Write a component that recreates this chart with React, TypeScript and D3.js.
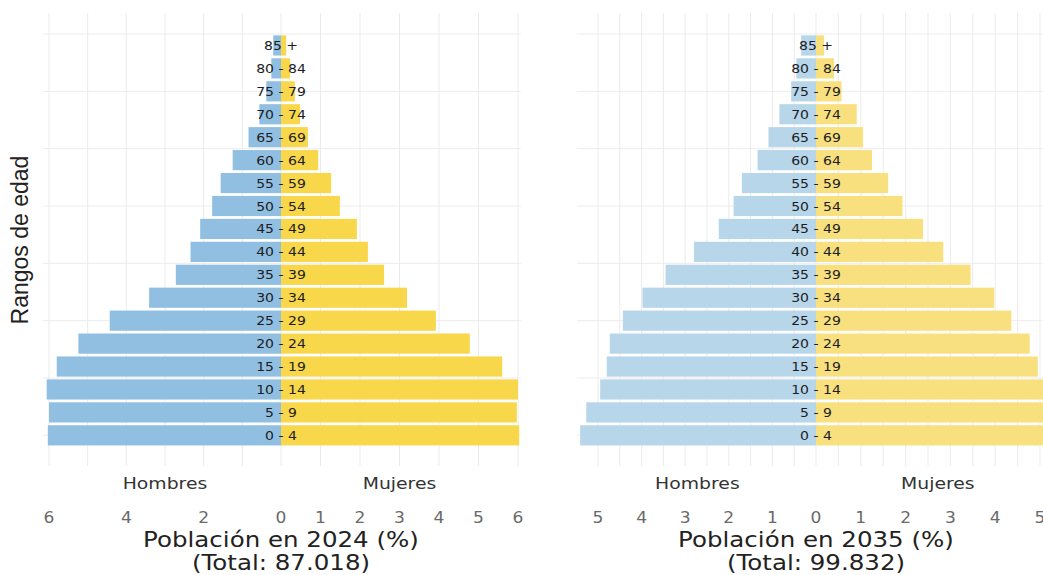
import React from "react";
import * as d3 from "d3";

const ages = ["0 - 4","5 - 9","10 - 14","15 - 19","20 - 24","25 - 29","30 - 34","35 - 39","40 - 44","45 - 49","50 - 54","55 - 59","60 - 64","65 - 69","70 - 74","75 - 79","80 - 84","85 +"];

const men2024 = [6.03, 6.0, 6.06, 5.8, 5.24, 4.43, 3.41, 2.72, 2.34, 2.09, 1.78, 1.56, 1.25, 0.84, 0.56, 0.38, 0.25, 0.2];
const women2024 = [6.03, 5.97, 6.0, 5.6, 4.78, 3.92, 3.19, 2.61, 2.2, 1.92, 1.49, 1.27, 0.94, 0.68, 0.48, 0.35, 0.23, 0.13];

const men2035 = [5.41, 5.27, 4.95, 4.8, 4.73, 4.43, 3.98, 3.45, 2.8, 2.23, 1.89, 1.7, 1.34, 1.09, 0.84, 0.57, 0.45, 0.34];
const women2035 = [5.25, 5.18, 5.1, 4.95, 4.77, 4.36, 3.98, 3.45, 2.84, 2.39, 1.93, 1.61, 1.25, 1.05, 0.91, 0.57, 0.4, 0.18];

const ticks2024Left = [-6, -4, -2];
const ticks2024Right = [0, 1, 2, 3, 4, 5, 6];
const ticks2035Left = [-5, -4, -3, -2, -1];
const ticks2035Right = [0, 1, 2, 3, 4, 5];

const SX = 1.14;
const FONT = "DejaVu Sans, Verdana, sans-serif";

function SText({ x, y, size, fill, children, weight }: any) {
  return (
    <text
      transform={`translate(${x},${y}) scale(${SX},1)`}
      textAnchor="middle"
      fontFamily={FONT}
      fontSize={size}
      fill={fill}
      fontWeight={weight || "normal"}
    >
      {children}
    </text>
  );
}

const y = d3.scaleBand<string>().domain([...ages].reverse()).range([34, 446.8]).padding(0);
const step = y.step();
const barH = step * 0.88;
const center0 = (y(ages[0]) as number) + step / 2;
const hLines = d3.range(0, 8).map((k) => center0 - k * 2.5 * step);

function Panel({ men, women, x, gridVals, hx0, hx1, blue, yellow, leftTicks, rightTicks, labelOffset, title, total }: any) {
  const zero = x(0);
  return (
    <g>
      {hLines.map((yy: number, i: number) => (
        <line key={"h" + i} x1={hx0} x2={hx1} y1={yy} y2={yy} stroke="#ececec" strokeWidth={1} />
      ))}
      {gridVals.map((v: number, i: number) => (
        <line key={"v" + i} x1={x(v)} x2={x(v)} y1={13} y2={466} stroke="#ebebeb" strokeWidth={1} />
      ))}
      {ages.map((a, i) => (
        <g key={a}>
          <rect x={x(-men[i])} y={(y(a) as number) + (step - barH) / 2} width={zero - x(-men[i])} height={barH} fill={blue} />
          <rect x={zero} y={(y(a) as number) + (step - barH) / 2} width={x(women[i]) - zero} height={barH} fill={yellow} />
        </g>
      ))}
      {ages.map((a) => (
        <SText key={"l" + a} x={zero} y={(y(a) as number) + step / 2 + 4.5} size={12.3} fill="#1c1c24">
          {a}
        </SText>
      ))}
      <SText x={x(-labelOffset)} y={489} size={16.5} fill="#333">Hombres</SText>
      <SText x={x(labelOffset)} y={489} size={16.5} fill="#333">Mujeres</SText>
      {leftTicks.map((t: number) => (
        <SText key={"tl" + t} x={x(t)} y={523} size={15} fill="#6a6a6a">{String(Math.abs(t))}</SText>
      ))}
      {rightTicks.map((t: number) => (
        <SText key={"tr" + t} x={x(t)} y={523} size={15} fill="#6a6a6a">{String(t)}</SText>
      ))}
      <SText x={zero} y={547} size={21.5} fill="#222">{title}</SText>
      <SText x={zero} y={569.5} size={21.5} fill="#222">{total}</SText>
    </g>
  );
}

export default function App() {
  const x1 = d3.scaleLinear().domain([-6, 0, 6]).range([49, 281, 518]);
  const x2 = d3.scaleLinear().domain([-5, 0, 5]).range([598, 816, 1040]);
  return (
    <svg
      width={1043}
      height={575}
      style={{ position: "absolute", left: 0, top: 0, background: "#fff" }}
    >
      <rect x={0} y={0} width={1043} height={575} fill="#fff" />
      <Panel
        men={men2024}
        women={women2024}
        x={x1}
        gridVals={d3.range(-6, 7, 1)}
        hx0={43}
        hx1={521}
        blue="#90bfe2"
        yellow="#f8d74b"
        leftTicks={ticks2024Left}
        rightTicks={ticks2024Right}
        labelOffset={3}
        title="Población en 2024 (%)"
        total="(Total: 87.018)"
      />
      <Panel
        men={men2035}
        women={women2035}
        x={x2}
        gridVals={d3.range(-5, 5.01, 0.5)}
        hx0={577}
        hx1={1043}
        blue="#b7d6ea"
        yellow="#f8e07e"
        leftTicks={ticks2035Left}
        rightTicks={ticks2035Right}
        labelOffset={2.72}
        title="Población en 2035 (%)"
        total="(Total: 99.832)"
      />
      <text
        transform="translate(28,240) rotate(-90)"
        textAnchor="middle"
        fontFamily="Liberation Sans, Arial, sans-serif"
        fontSize={23}
        fill="#222"
      >
        Rangos de edad
      </text>
    </svg>
  );
}
